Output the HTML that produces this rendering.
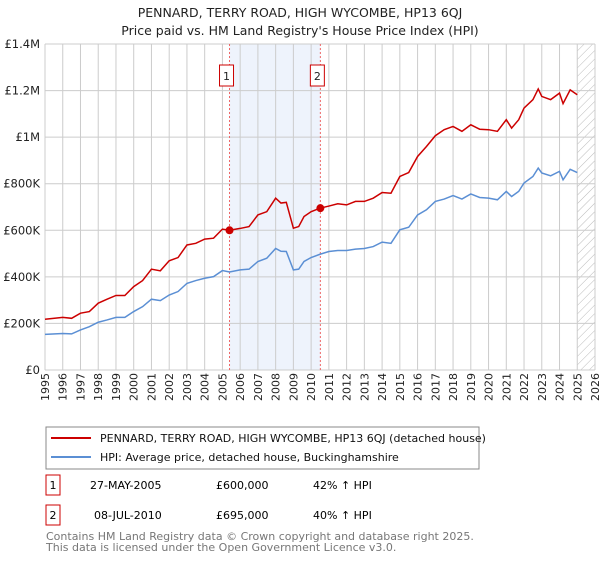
<!DOCTYPE html>
<html><head><meta charset="utf-8"><style>
body{margin:0;background:#fff;font-family:"Liberation Sans","DejaVu Sans",sans-serif;}
svg text{font-family:"DejaVu Sans","Liberation Sans",sans-serif;}
</style></head><body>
<svg id="c" width="600" height="560" viewBox="0 0 600 560">
<defs><pattern id="hatch" width="6" height="6" patternUnits="userSpaceOnUse" patternTransform="rotate(45)"><line x1="0" y1="0" x2="0" y2="6" stroke="#bbb" stroke-width="1"/></pattern></defs>
<text x="300" y="17" text-anchor="middle" font-size="12.5" fill="#222">PENNARD, TERRY ROAD, HIGH WYCOMBE, HP13 6QJ</text>
<text x="300" y="35" text-anchor="middle" font-size="12.5" fill="#222">Price paid vs. HM Land Registry's House Price Index (HPI)</text>
<g id="plot"></g>
<rect x="46" y="427" width="433" height="42" fill="#fff" stroke="#888"/>
<line x1="51" y1="438" x2="91" y2="438" stroke="#cc0000" stroke-width="2"/>
<text x="100" y="442" font-size="11" fill="#111">PENNARD, TERRY ROAD, HIGH WYCOMBE, HP13 6QJ (detached house)</text>
<line x1="51" y1="457" x2="91" y2="457" stroke="#5b8fd4" stroke-width="2"/>
<text x="100" y="461" font-size="11" fill="#111">HPI: Average price, detached house, Buckinghamshire</text>
<g>
<rect x="46" y="475" width="14" height="20" fill="#fff" stroke="#cc0000"/>
<text x="53" y="489" text-anchor="middle" font-size="11">1</text>
<text x="90" y="489" font-size="11">27-MAY-2005</text>
<text x="216" y="489" font-size="11">£600,000</text>
<text x="313" y="489" font-size="11">42% ↑ HPI</text></g>
<g>
<rect x="46" y="505" width="14" height="20" fill="#fff" stroke="#cc0000"/>
<text x="53" y="519" text-anchor="middle" font-size="11">2</text>
<text x="94" y="519" font-size="11">08-JUL-2010</text>
<text x="216" y="519" font-size="11">£695,000</text>
<text x="313" y="519" font-size="11">40% ↑ HPI</text></g>
<text x="46" y="540" font-size="11" fill="#777">Contains HM Land Registry data © Crown copyright and database right 2025.</text>
<text x="46" y="551" font-size="11" fill="#777">This data is licensed under the Open Government Licence v3.0.</text>
</svg>
<script>
const years=[1995,1996,1996.5,1997,1997.5,1998,1998.5,1999,1999.5,2000,2000.5,2001,2001.5,2002,2002.5,2003,2003.5,2004,2004.5,2005,2005.4,2006,2006.5,2007,2007.5,2008,2008.3,2008.6,2009,2009.3,2009.6,2010,2010.5,2011,2011.5,2012,2012.5,2013,2013.5,2014,2014.5,2015,2015.5,2016,2016.5,2017,2017.5,2018,2018.5,2019,2019.5,2020,2020.5,2021,2021.3,2021.7,2022,2022.5,2022.8,2023,2023.5,2024,2024.2,2024.6,2025];
const hpi=[153,157,155,172,186,205,215,226,226,251,272,304,298,322,337,372,384,394,401,427,421,430,433,466,480,522,510,509,430,433,466,483,497,509,513,513,519,522,530,549,544,602,613,666,688,724,734,749,734,756,741,738,731,767,745,767,803,831,867,846,834,853,817,862,848];
const prop=[218,226,222,244,251,287,304,320,320,358,384,433,426,469,483,537,544,562,566,605,600,608,616,666,680,738,717,720,609,616,659,680,695,704,714,709,724,724,738,762,759,831,848,917,960,1006,1032,1046,1025,1053,1034,1032,1025,1075,1039,1075,1125,1161,1207,1175,1161,1189,1144,1203,1182];
const saleYears=[2005.4,2010.52];
const saleValues=[600,695];
const yTicks=[0,200,400,600,800,1000,1200,1400];
const yLabels=["£0","£200K","£400K","£600K","£800K","£1M","£1.2M","£1.4M"];
const xTicks=[];for(let y=1995;y<=2026;y++)xTicks.push(y);
const L=45,R=595,T=44,B=370;
const xs=v=>L+(v-1995)/31*(R-L), ys=v=>B-v/1400*(B-T);
const NS='http://www.w3.org/2000/svg', g=document.getElementById('plot');
function mk(t,a,p){const e=document.createElementNS(NS,t);for(const k in a)e.setAttribute(k,a[k]);(p||g).appendChild(e);return e;}
let e=mk('rect',{x:xs(saleYears[0]),y:T,width:xs(saleYears[1])-xs(saleYears[0]),height:B-T,fill:'#eef3fc'});


e=mk('rect',{x:xs(2025),y:T,width:R-xs(2025),height:B-T,fill:'url(#hatch)'});


xTicks.forEach(y=>{e=mk('line',{x1:xs(y),x2:xs(y),y1:T,y2:B,stroke:'#ccc'});


e=mk('text',{x:0,y:0,transform:`translate(${xs(y)+4},${B+3}) rotate(-90)`,'text-anchor':'end','font-size':11,fill:'#222'});e.textContent=y;

});
yTicks.forEach((v,i)=>{e=mk('line',{x1:L,x2:R,y1:ys(v),y2:ys(v),stroke:'#ccc'});


e=mk('text',{x:40,y:ys(v)+4,'text-anchor':'end','font-size':11.5,fill:'#222'});e.textContent=yLabels[i];

});
saleYears.forEach((s,i)=>{e=mk('line',{x1:xs(s),x2:xs(s),y1:T,y2:B,stroke:'#e66','stroke-dasharray':'2,2'});

});
e=mk('polyline',{points:years.map((y,i)=>xs(y)+','+ys(hpi[i])).join(' '),fill:'none',stroke:'#5b8fd4','stroke-width':1.5});


e=mk('polyline',{points:years.map((y,i)=>xs(y)+','+ys(prop[i])).join(' '),fill:'none',stroke:'#cc0000','stroke-width':1.5});


saleYears.forEach((s,i)=>{e=mk('circle',{cx:xs(s),cy:ys(saleValues[i]),r:4,fill:'#cc0000'});


e=mk('rect',{x:xs(s)-10,y:65,width:14,height:21,fill:'#fff',stroke:'#cc0000'});


e=mk('text',{x:xs(s)-3,y:80,'text-anchor':'middle','font-size':11,fill:'#222'});e.textContent=i+1;

});
</script>
</body></html>
